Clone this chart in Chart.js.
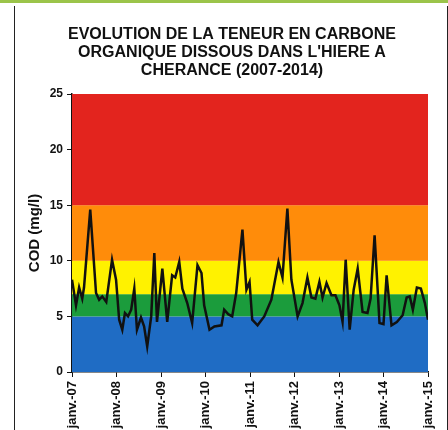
<!DOCTYPE html>
<html>
<head>
<meta charset="utf-8">
<script src="https://cdn.jsdelivr.net/npm/chart.js@4/dist/chart.umd.min.js"></script>
<style>
  html, body { margin: 0; padding: 0; background: #fff; }
  #wrap { position: relative; width: 448px; height: 430px; }
  #frame { position: absolute; left: 14px; top: 6px; width: 432px; height: 424px;
           border-left: 1.5px solid #222; border-right: 1.5px solid #222; pointer-events: none; }
  #topline { position: absolute; left: 0; top: 0; width: 448px; height: 3px; background: #9bc44a; }
</style>
</head>
<body>
<div id="wrap">
  <canvas id="chart" width="448" height="430"></canvas>
  <div id="frame"></div>
  <div id="topline"></div>
</div>
<script>
// sampling dates as decimal years
const dates = [
  2007.00, 2007.09, 2007.16, 2007.23, 2007.27, 2007.41, 2007.54, 2007.61, 2007.68, 2007.77,
  2007.90, 2007.99, 2008.06, 2008.13, 2008.19, 2008.26, 2008.33, 2008.40, 2008.46, 2008.55,
  2008.62, 2008.69, 2008.78, 2008.85, 2008.91, 2009.03, 2009.14, 2009.25, 2009.32, 2009.41,
  2009.48, 2009.59, 2009.70, 2009.82, 2009.91, 2009.97, 2010.09, 2010.20, 2010.36, 2010.42,
  2010.51, 2010.60, 2010.69, 2010.83, 2010.92, 2010.99, 2011.05, 2011.17, 2011.32, 2011.48,
  2011.64, 2011.73, 2011.84, 2011.93, 2012.07, 2012.18, 2012.29, 2012.38, 2012.47, 2012.56,
  2012.63, 2012.72, 2012.83, 2012.92, 2013.01, 2013.08, 2013.15, 2013.24, 2013.33, 2013.42,
  2013.53, 2013.64, 2013.71, 2013.80, 2013.91, 2014.00, 2014.07, 2014.18, 2014.30, 2014.43,
  2014.52, 2014.59, 2014.66, 2014.75, 2014.84, 2014.93, 2015.00
];
const cod = [
  8.3, 6.0, 7.6, 6.6, 7.6, 14.6, 7.1, 6.5, 6.8, 6.3,
  10.1, 8.3, 4.7, 3.8, 5.3, 5.0, 5.6, 7.5, 3.8, 4.9,
  4.1, 2.3, 5.0, 10.7, 4.5, 9.3, 4.5, 8.7, 8.5, 9.9,
  7.5, 6.2, 4.4, 9.6, 8.9, 6.0, 3.8, 4.1, 4.2, 5.6,
  5.2, 5.0, 7.1, 12.8, 7.4, 8.1, 4.7, 4.2, 5.0, 6.5,
  9.9, 8.5, 14.7, 8.3, 5.0, 6.2, 8.5, 6.7, 6.6, 8.1,
  6.7, 8.0, 6.9, 6.9, 6.0, 4.5, 10.1, 3.8, 7.4, 9.3,
  5.4, 5.3, 6.6, 12.3, 4.4, 4.3, 8.7, 4.2, 4.5, 5.1,
  6.7, 6.8, 5.6, 7.6, 7.5, 6.2, 4.7
];
const yearTicks = ['janv.-07', 'janv.-08', 'janv.-09', 'janv.-10', 'janv.-11', 'janv.-12', 'janv.-13', 'janv.-14', 'janv.-15'];
// quality classes (mg/l) and their colours
const bandLimits = [0, 5, 7, 10, 15, 25];
const bandColors = ['#1f6cc4', '#1b9c3c', '#fff200', '#ff8c0a', '#e3241e'];

const bandsPlugin = {
  id: 'bands',
  afterLayout(chart) {
    // title sits centred over the framed figure, not the whole canvas
    if (chart.titleBlock) chart.titleBlock.left = 36;
  },
  beforeDatasetsDraw(chart) {
    const { ctx, chartArea, scales } = chart;
    ctx.save();
    for (let i = 0; i < bandColors.length; i++) {
      const yTop = scales.y.getPixelForValue(bandLimits[i + 1]);
      const yBot = scales.y.getPixelForValue(bandLimits[i]);
      ctx.fillStyle = bandColors[i];
      ctx.fillRect(chartArea.left, yTop, chartArea.right - chartArea.left, yBot - yTop);
    }
    ctx.restore();
  }
};

const font = 'Liberation Sans, Arial, sans-serif';
const ctx = document.getElementById('chart').getContext('2d');
new Chart(ctx, {
  type: 'line',
  data: {
    datasets: [{
      data: dates.map((d, i) => ({ x: d, y: cod[i] })),
      borderColor: '#111',
      borderWidth: 2.5,
      pointRadius: 0,
      tension: 0,
      fill: false
    }]
  },
  options: {
    responsive: false,
    animation: false,
    layout: { padding: { right: 20 } },
    plugins: {
      legend: { display: false },
      tooltip: { enabled: false },
      title: {
        display: true,
        text: ["EVOLUTION DE LA TENEUR EN CARBONE", "ORGANIQUE DISSOUS DANS L'HIERE A", "CHERANCE (2007-2014)"],
        color: '#111',
        font: { family: font, size: 16, weight: 'bold', lineHeight: 1.125 },
        padding: { top: 26, bottom: 14 }
      }
    },
    scales: {
      x: {
        type: 'linear',
        min: 2007,
        max: 2015,
        afterFit: s => { s.height = 58; },
        ticks: {
          stepSize: 1,
          minRotation: 90,
          maxRotation: 90,
          color: '#111',
          padding: 4,
          font: { family: font, size: 13, weight: 'bold' },
          callback: v => yearTicks[Math.round(v - 2007)]
        },
        grid: { drawOnChartArea: false, drawTicks: true, tickLength: 5, color: '#111' },
        border: { color: '#111', width: 1.5 }
      },
      y: {
        min: 0,
        max: 25,
        afterFit: s => { s.width = 72; },
        ticks: {
          stepSize: 5,
          color: '#111',
          padding: 4,
          font: { family: font, size: 12, weight: 'bold' }
        },
        title: {
          display: true,
          text: 'COD (mg/l)',
          color: '#111',
          font: { family: font, size: 15, weight: 'bold' },
          padding: { top: 26, bottom: 0 }
        },
        grid: { drawOnChartArea: false, drawTicks: true, tickLength: 5, color: '#111' },
        border: { color: '#111', width: 1.5 }
      }
    }
  },
  plugins: [bandsPlugin]
});
</script>
</body>
</html>
